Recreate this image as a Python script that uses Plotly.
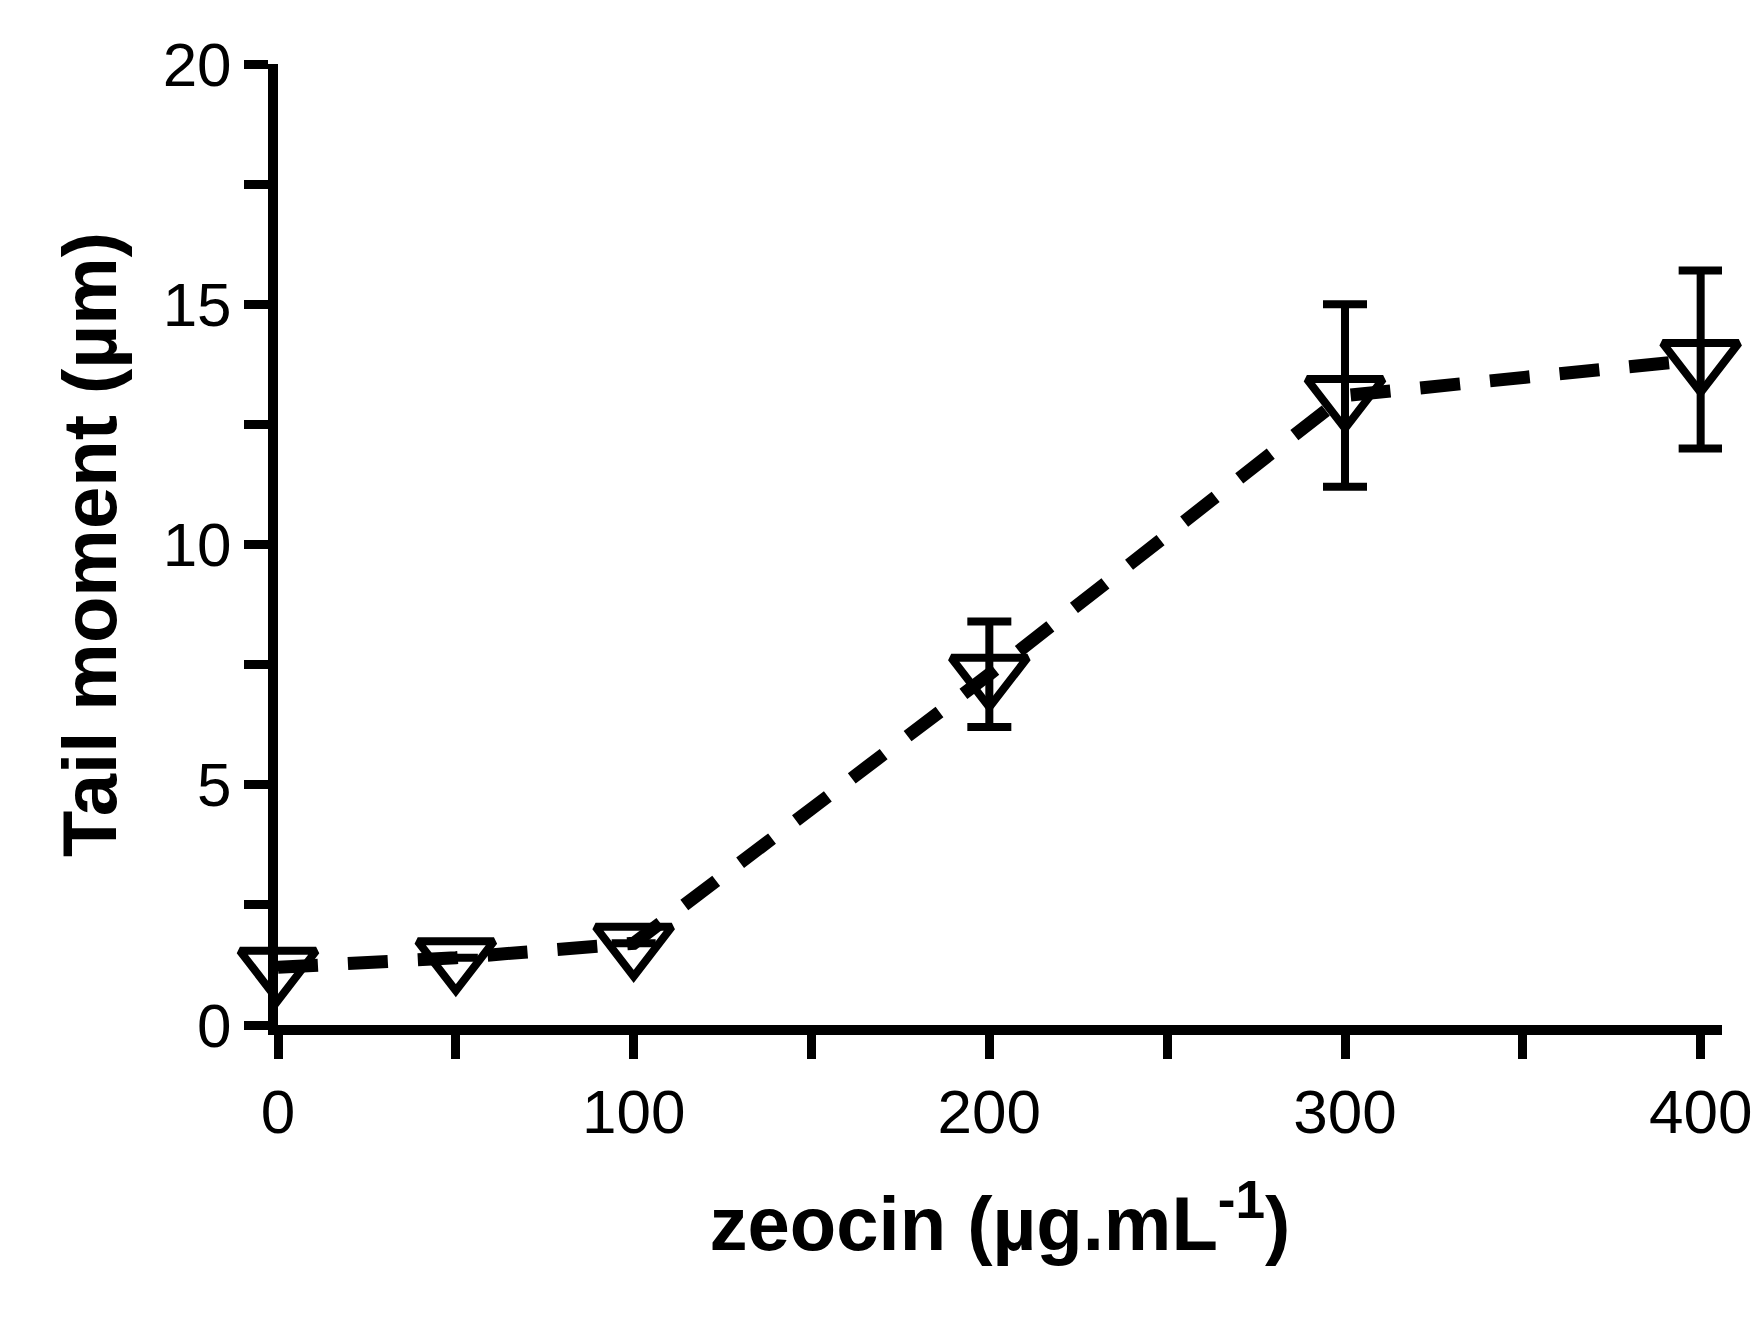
import plotly.graph_objects as go

dose = [0, 50, 100, 200, 300, 400]
tail_moment = [1.2, 1.4, 1.7, 7.3, 13.1, 13.85]
sem = [0.0, 0.0, 0.0, 1.1, 1.9, 1.85]

fig = go.Figure()
fig.add_trace(go.Scatter(
    x=dose, y=tail_moment,
    mode="lines+markers",
    line=dict(color="black", width=13, dash="40px,30px"),
    marker=dict(symbol="triangle-down-open", size=66, color="black", line=dict(width=8)),
    error_y=dict(type="data", array=sem, visible=True, color="black", thickness=8, width=22),
    cliponaxis=False,
))

fig.update_layout(
    width=1763, height=1326,
    plot_bgcolor="white", paper_bgcolor="white",
    margin=dict(l=270, r=49, t=56, b=309),
    showlegend=False,
    font=dict(family="Liberation Sans, Arial", color="black", size=62),
)
fig.update_xaxes(
    range=[0, 406], tickvals=[0, 100, 200, 300, 400],
    showline=True, linewidth=10, linecolor="black",
    ticks="outside", ticklen=24, tickwidth=9, tickcolor="black",
    minor=dict(tickvals=[50, 150, 250, 350], ticks="outside", ticklen=24, tickwidth=9, tickcolor="black"),
    showgrid=False, zeroline=False,
    title=dict(text="<b>zeocin (µg.mL<sup>-1</sup>)</b>", font=dict(size=76), standoff=55),
)
fig.update_yaxes(
    range=[0, 20], tickvals=[0, 5, 10, 15, 20],
    showline=True, linewidth=10, linecolor="black",
    ticks="outside", ticklen=24, tickwidth=9, tickcolor="black",
    minor=dict(tickvals=[2.5, 7.5, 12.5, 17.5], ticks="outside", ticklen=24, tickwidth=9, tickcolor="black"),
    showgrid=False, zeroline=False,
    title=dict(text="<b>Tail moment (µm)</b>", font=dict(size=76), standoff=25),
)

fig.write_html("out.html")
